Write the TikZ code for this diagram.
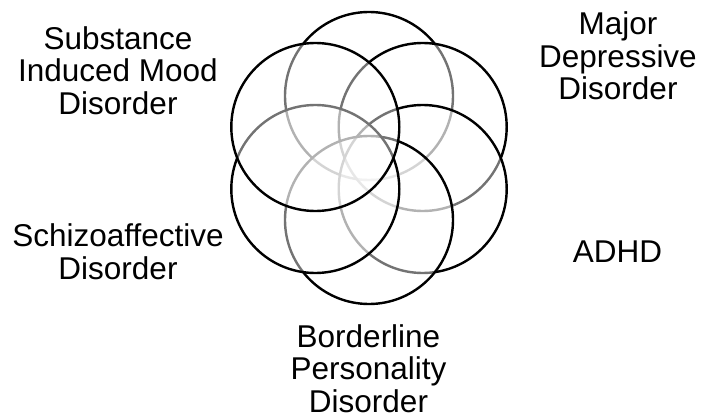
\documentclass[tikz,border=0pt]{standalone}
\usepackage{fontspec}
\setmainfont{Liberation Sans}
\begin{document}
\begin{tikzpicture}[x=1pt,y=-1pt,
  ring/.style={circle, draw=black, line width=2.4pt, fill=white, fill opacity=0.45, draw opacity=1, minimum size=168pt, inner sep=0pt},
  lbl/.style={align=center, anchor=base, inner sep=0pt, font=\fontsize{31.5}{32.5}\selectfont}]
\useasboundingbox (0,0) rectangle (701,417);
% hexagon of circles around (369,158)
\node[ring] (ctop) at (369,96) {};
\node[ring] (cur)  at (422.7,127) {};
\node[ring] (clr)  at (422.7,189) {};
\node[ring] (cbot) at (369,220) {};
\node[ring] (cll)  at (315.3,189) {};
\node[ring] (cul)  at (315.3,127) {};
% labels (anchor = baseline of last line)
\node[lbl] (sim) at (118,114) {Substance\\Induced Mood\\Disorder};
\node[lbl] (mdd) at (618,100) {Major\\Depressive\\Disorder};
\node[lbl] (sch) at (118,279) {Schizoaffective\\Disorder};
\node[lbl] (adhd) at (617.5,262) {ADHD};
\node[lbl] (bpd) at (368.5,412) {Borderline\\Personality\\Disorder};
\end{tikzpicture}
\end{document}
